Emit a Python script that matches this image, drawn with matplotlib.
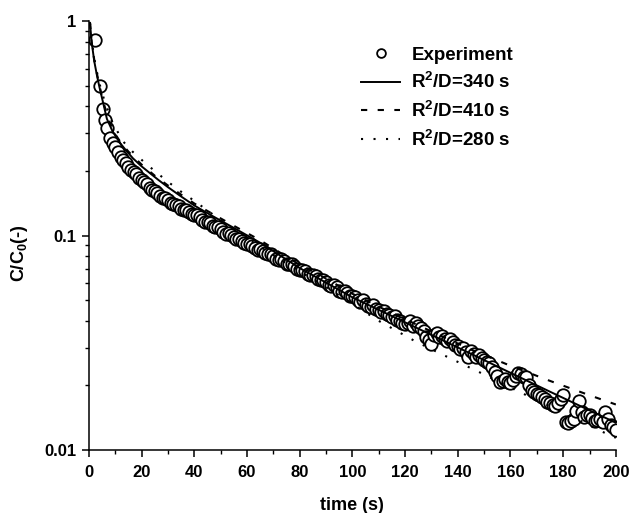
import numpy as np
import matplotlib
matplotlib.use('Agg')
import matplotlib.pyplot as plt
from matplotlib.ticker import LogLocator, NullFormatter, MultipleLocator

plt.rcParams['font.family'] = ['Liberation Sans', 'DejaVu Sans']
plt.rcParams['font.weight'] = 'bold'
plt.rcParams['mathtext.default'] = 'regular'

# experiment
t_exp = [2.3, 4.2, 5.3,
         6, 7, 8, 9, 10, 11, 12, 13, 14, 15, 16, 17, 18, 19, 20,
         21, 22, 23, 24, 25, 26, 27, 28, 29, 30, 31, 32, 33, 34, 35, 36, 37, 38, 39, 40,
         41, 42, 43, 44, 45, 46, 47, 48, 49, 50, 51, 52, 53, 54, 55, 56, 57, 58, 59, 60,
         61, 62, 63, 64, 65, 66, 67, 68, 69, 70, 71, 72, 73, 74, 75, 76, 77, 78, 79, 80,
         81, 82, 83, 84, 85, 86, 87, 88, 89, 90, 91, 92, 93, 94, 95, 96, 97, 98, 99, 100,
         101, 102, 103, 104, 105, 106, 107, 108, 109, 110, 111, 112, 113, 114, 115, 116, 117, 118, 119, 120,
         121, 122, 123, 124, 125, 126, 127, 128, 129, 130, 131, 132, 133, 134, 135, 136, 137, 138, 139, 140,
         141, 142, 143, 144, 145, 146, 147, 148, 149, 150, 151, 152, 153, 154, 155, 156, 157, 158, 159, 160,
         161, 162, 163, 164, 165, 166, 167, 168, 169, 170, 171, 172, 173, 174, 175, 176, 177, 178, 179, 180,
         181, 182, 183, 184, 185, 186, 187, 188, 189, 190, 191, 192, 193, 194, 195, 196, 197, 198, 199, 200]
c_exp = [0.815, 0.50, 0.39,
         0.345, 0.318, 0.285, 0.270, 0.258, 0.244, 0.232, 0.226, 0.218, 0.209, 0.203, 0.197, 0.193, 0.186, 0.181,
         0.178, 0.173, 0.167, 0.163, 0.161, 0.158, 0.153, 0.150, 0.149, 0.147,
         0.142, 0.140, 0.139, 0.137, 0.133, 0.131, 0.131, 0.129, 0.126, 0.124,
         0.124, 0.122, 0.118, 0.116, 0.116, 0.114, 0.111, 0.109, 0.109, 0.107,
         0.104, 0.102, 0.1025, 0.101, 0.098, 0.096, 0.0962, 0.0945, 0.092, 0.091,
         0.0912, 0.0895, 0.087, 0.086, 0.0862, 0.085, 0.0825, 0.0816, 0.0818, 0.080,
         0.0778, 0.0772, 0.0775, 0.076, 0.0738, 0.0733, 0.0735, 0.072, 0.0698, 0.0692,
         0.0694, 0.068, 0.066, 0.0654, 0.0657, 0.0645, 0.0626, 0.0622, 0.0623, 0.0605,
         0.0588, 0.058, 0.0585, 0.0575, 0.0552, 0.0548, 0.0553, 0.054, 0.0522, 0.0525,
         0.0518, 0.0500, 0.0488, 0.0498, 0.0482, 0.0470, 0.0462, 0.0472, 0.0455, 0.0448,
         0.0438, 0.0445, 0.0432, 0.0425, 0.0415, 0.0420, 0.0405, 0.0398, 0.0390, 0.0385,
         0.0392, 0.0398, 0.0380, 0.0392, 0.0378, 0.0372, 0.0360, 0.0338, 0.0325, 0.0312,
         0.0342, 0.0352, 0.0335, 0.0340, 0.0330, 0.0322, 0.0330, 0.0318, 0.0310, 0.0305,
         0.0296, 0.0298, 0.0285, 0.0272, 0.0290, 0.0281, 0.0270, 0.0276, 0.0268, 0.0262,
         0.0258, 0.0254, 0.0244, 0.0232, 0.0222, 0.0208, 0.0210, 0.0215, 0.0208, 0.0205,
         0.0212, 0.0222, 0.0228, 0.0225, 0.0220, 0.0218, 0.0200, 0.0190, 0.0186, 0.0183,
         0.0180, 0.0176, 0.0172, 0.0168, 0.0165, 0.0162, 0.0160, 0.0165, 0.0172, 0.0180,
         0.0135, 0.0134, 0.0137, 0.0140, 0.0152, 0.0170, 0.0150, 0.0142, 0.0145, 0.0146,
         0.0141, 0.0136, 0.0138, 0.0140, 0.0135, 0.0150, 0.0140, 0.0131, 0.0128, 0.0124]

# model curves
t_340 = [0.4, 1, 2, 3, 4, 5, 6.8, 9, 11.8, 14, 16.7, 20, 23, 26.5, 30, 35, 40,
         46, 55, 65, 80, 90, 100, 115, 130, 145, 160, 175, 190, 200]
c_340 = [0.98, 0.80, 0.65, 0.56, 0.49, 0.435, 0.35, 0.305, 0.270, 0.250, 0.229,
         0.210, 0.196, 0.181, 0.168, 0.152, 0.138, 0.125, 0.1085, 0.0925, 0.0705,
         0.0603, 0.0515, 0.0421, 0.0344, 0.0281, 0.0229, 0.0187, 0.0153, 0.0134]

t_410 = [0.4, 1, 2, 3, 4, 5, 7, 9, 12, 15, 20, 25, 30, 35, 40, 46, 55, 65, 80,
         90, 100, 115, 130, 145, 160, 175, 190, 200]
c_410 = [0.98, 0.80, 0.66, 0.57, 0.50, 0.44, 0.36, 0.31, 0.272, 0.246, 0.214,
         0.190, 0.171, 0.155, 0.141, 0.128, 0.111, 0.095, 0.073, 0.063, 0.0535,
         0.0435, 0.0357, 0.0294, 0.0247, 0.0210, 0.0180, 0.0163]

t_280 = [0.4, 1, 2, 3, 4, 6, 9, 12.9, 16.7, 21.3, 25.8, 30, 35, 40, 50, 60, 70,
         80, 90, 100, 110, 123.7, 132.5, 141.6, 150, 163.6, 175, 185, 194, 200]
c_280 = [0.98, 0.82, 0.67, 0.58, 0.51, 0.42, 0.335, 0.275, 0.245, 0.218, 0.196,
         0.178, 0.160, 0.145, 0.118, 0.097, 0.081, 0.068, 0.0575, 0.0480, 0.0400,
         0.0322, 0.0285, 0.0252, 0.0225, 0.0186, 0.0160, 0.0140, 0.0123, 0.0114]

fig = plt.figure(figsize=(6.31, 5.13), dpi=100)
ax = fig.add_axes([0.141, 0.1228, 0.835, 0.8362])

ax.plot(t_exp, c_exp, linestyle='none', marker='o', markersize=9,
        markerfacecolor='white', markeredgecolor='black', markeredgewidth=1.3,
        label='Experiment', zorder=2)
ax.plot(t_340, c_340, color='black', lw=1.4, label='R$^2$/D=340 s', zorder=3)
ax.plot(t_410, c_410, color='black', lw=1.5, linestyle=(0, (3, 5)),
        label='R$^2$/D=410 s', zorder=3)
ax.plot(t_280, c_280, color='black', lw=1.5, linestyle=(0, (1, 5)),
        label='R$^2$/D=280 s', zorder=3)

ax.set_yscale('log')
ax.set_xlim(0, 200)
ax.set_ylim(0.01, 1)
ax.set_xticks(np.arange(0, 201, 20))
ax.xaxis.set_minor_locator(MultipleLocator(10))
ax.set_yticks([0.01, 0.1, 1])
ax.set_yticklabels(['0.01', '0.1', '1'])
ax.yaxis.set_minor_locator(LogLocator(base=10, subs=np.arange(2, 10)))
ax.yaxis.set_minor_formatter(NullFormatter())

for s in ['top', 'right']:
    ax.spines[s].set_visible(False)
for s in ['left', 'bottom']:
    ax.spines[s].set_linewidth(1.1)
ax.tick_params(which='major', direction='out', length=5, width=1.1,
               labelsize=12, pad=4)
ax.tick_params(axis='x', which='major', pad=6)
ax.tick_params(which='minor', direction='out', length=3, width=1.0)

ax.set_xlabel('time (s)', fontsize=13, fontweight='bold', labelpad=12)
ax.set_ylabel('C/C$_0$(-)', fontsize=13, fontweight='bold')
ax.yaxis.set_label_coords(-0.112, 0.46)

leg = ax.legend(loc='upper left', bbox_to_anchor=(0.516, 0.94), frameon=False,
                fontsize=13.5, handlelength=2.1, handletextpad=0.6,
                labelspacing=0.45, borderpad=0, borderaxespad=0, markerscale=0.7)

plt.savefig('out.png', dpi=100)
